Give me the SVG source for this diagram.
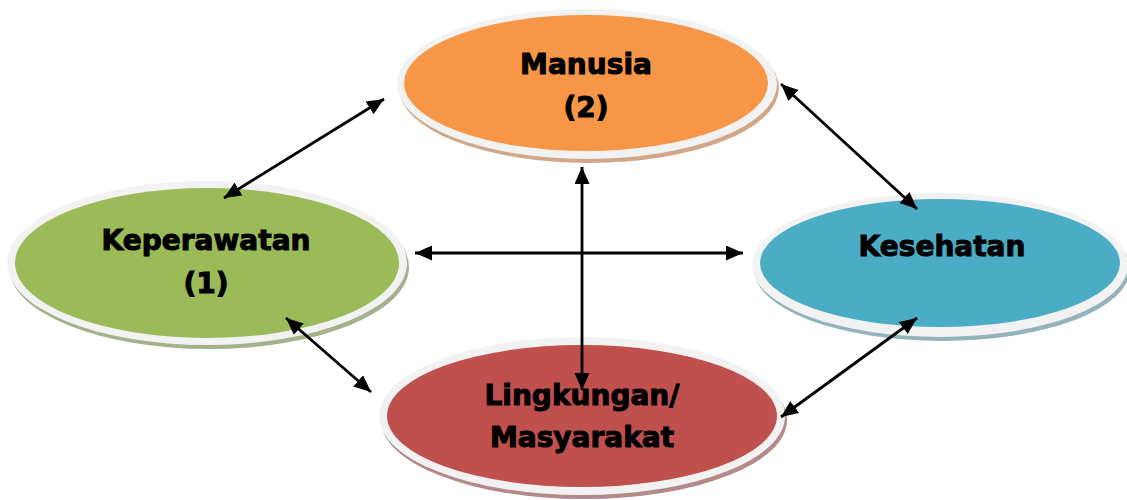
<svg xmlns="http://www.w3.org/2000/svg" width="1127" height="500" viewBox="0 0 1127 500">
<style>
.ring{fill:#F2F2F2}
.lbl{font-family:"DejaVu Sans",sans-serif;font-weight:bold;font-size:28px;fill:#000;stroke:#000;stroke-width:1;text-anchor:middle}
.con{stroke:#000;stroke-width:2.8;fill:none;marker-start:url(#ah);marker-end:url(#ah)}
</style>
<defs>
<marker id="ah" markerUnits="userSpaceOnUse" markerWidth="18" markerHeight="16" refX="17" refY="7.5" orient="auto-start-reverse">
<path d="M0,0 L17,7.5 L0,15 z" fill="#000"/>
</marker>
</defs>
<rect width="1127" height="500" fill="#fff"/>
<g id="manusia">
<ellipse cx="589" cy="88" rx="190" ry="75" fill="#D2A788"/>
<ellipse class="ring" cx="587" cy="84" rx="190" ry="75"/>
<ellipse cx="586" cy="83" rx="182" ry="68" fill="#F79646"/>
<text class="lbl" x="586" y="74">Manusia</text>
<text class="lbl" x="586" y="117">(2)</text>
</g>
<g id="keperawatan">
<ellipse cx="209" cy="267" rx="200" ry="82" fill="#A4B18A"/>
<ellipse class="ring" cx="207" cy="263" rx="200" ry="82"/>
<ellipse cx="207" cy="263" rx="192" ry="75" fill="#9BBB59"/>
<text class="lbl" x="206" y="250">Keperawatan</text>
<text class="lbl" x="206" y="293">(1)</text>
</g>
<g id="kesehatan">
<ellipse cx="942" cy="269" rx="188" ry="72" fill="#93B3BA"/>
<ellipse class="ring" cx="940" cy="265" rx="188" ry="72"/>
<ellipse cx="940" cy="263" rx="180" ry="64" fill="#4BACC6"/>
<text class="lbl" x="942" y="256">Kesehatan</text>
</g>
<g id="lingkungan">
<ellipse cx="584" cy="420" rx="203" ry="79" fill="#B38A89"/>
<ellipse class="ring" cx="582" cy="416" rx="203" ry="79"/>
<ellipse cx="582" cy="416" rx="195" ry="71" fill="#C0504D"/>
<text class="lbl" x="582" y="405">Lingkungan/</text>
<text class="lbl" x="582" y="447">Masyarakat</text>
</g>
<g id="connectors">
<line class="con" x1="384" y1="99" x2="224" y2="198"/>
<line class="con" x1="781" y1="84" x2="917" y2="209"/>
<line class="con" x1="415" y1="253" x2="743" y2="253"/>
<line class="con" x1="582" y1="167" x2="582" y2="390"/>
<line class="con" x1="286" y1="318" x2="371" y2="392"/>
<line class="con" x1="917" y1="318" x2="781" y2="417"/>
</g>
</svg>
